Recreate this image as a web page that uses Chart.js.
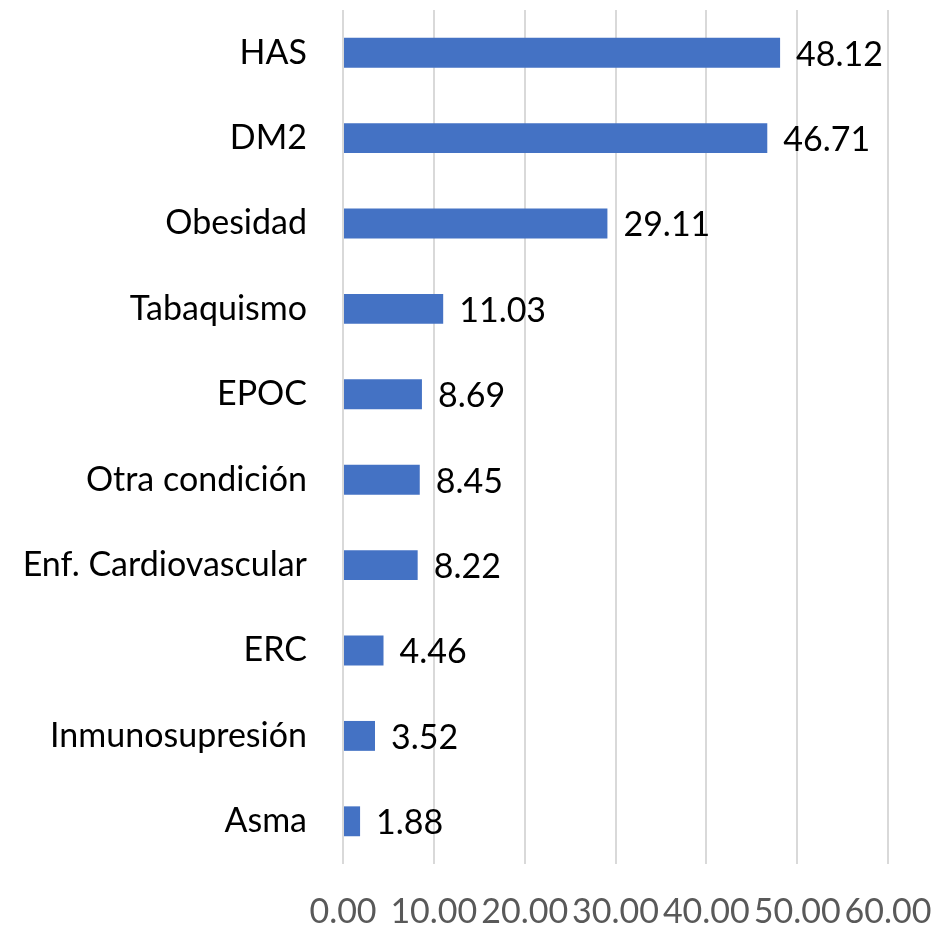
<!DOCTYPE html>
<html>
<head>
<meta charset="utf-8">
<script src="https://cdn.jsdelivr.net/npm/chart.js@4"></script>
<style>
  html, body { margin: 0; padding: 0; background: #fff; }
  #wrap { width: 932px; height: 927px; }
</style>
</head>
<body>
<div id="wrap"><canvas id="canvas-1" width="932" height="927"></canvas></div>
<script>
// categories, top to bottom
var categories = ['HAS', 'DM2', 'Obesidad', 'Tabaquismo', 'EPOC', 'Otra condición',
  'Enf. Cardiovascular', 'ERC', 'Inmunosupresión', 'Asma'];
var values = [48.12, 46.71, 29.11, 11.03, 8.69, 8.45, 8.22, 4.46, 3.52, 1.88];
var xTicks = [0, 10, 20, 30, 40, 50, 60];

var FONT = 'Lato';
var SIZE = 34;

// draw the value next to each bar
var valueLabels = {
  id: 'valueLabels',
  afterDatasetsDraw: function (chart) {
    var ctx = chart.ctx;
    var meta = chart.getDatasetMeta(0);
    ctx.save();
    ctx.font = SIZE + 'px ' + FONT;
    ctx.fillStyle = '#000';
    ctx.textAlign = 'left';
    ctx.textBaseline = 'middle';
    meta.data.forEach(function (bar, i) {
      ctx.fillText(values[i].toFixed(2), bar.x + 16, bar.y + 2);
    });
    ctx.restore();
  }
};

var ctx = document.getElementById('canvas-1');
var chart = new Chart(ctx, {
  type: 'bar',
  data: {
    labels: categories,
    datasets: [{
      data: values,
      backgroundColor: '#4472C4',
      barPercentage: 0.35,
      categoryPercentage: 1
    }]
  },
  plugins: [valueLabels],
  options: {
    indexAxis: 'y',
    responsive: false,
    animation: false,
    layout: { padding: { top: 10, right: 44, left: 0, bottom: 0 } },
    plugins: { legend: { display: false }, tooltip: { enabled: false } },
    scales: {
      x: {
        min: 0,
        max: 60,
        afterBuildTicks: function (axis) {
          axis.ticks = xTicks.map(function (v) { return { value: v }; });
        },
        afterFit: function (axis) {
          axis.height = 63;
          axis.paddingLeft = 0;
          axis.paddingRight = 0;
        },
        grid: { color: '#d9d9d9', lineWidth: 2, drawTicks: false },
        border: { display: false },
        ticks: {
          padding: 28,
          color: '#595959',
          font: { family: FONT, size: SIZE },
          maxRotation: 0,
          autoSkip: false,
          callback: function (v) { return v.toFixed(2); }
        }
      },
      y: {
        afterFit: function (axis) {
          axis.width = 343;
          axis.paddingTop = 0;
          axis.paddingBottom = 0;
        },
        grid: { display: false, drawTicks: false },
        border: { display: false },
        ticks: {
          padding: 36,
          color: '#000',
          font: { family: FONT, size: SIZE }
        }
      }
    }
  }
});
</script>
</body>
</html>
